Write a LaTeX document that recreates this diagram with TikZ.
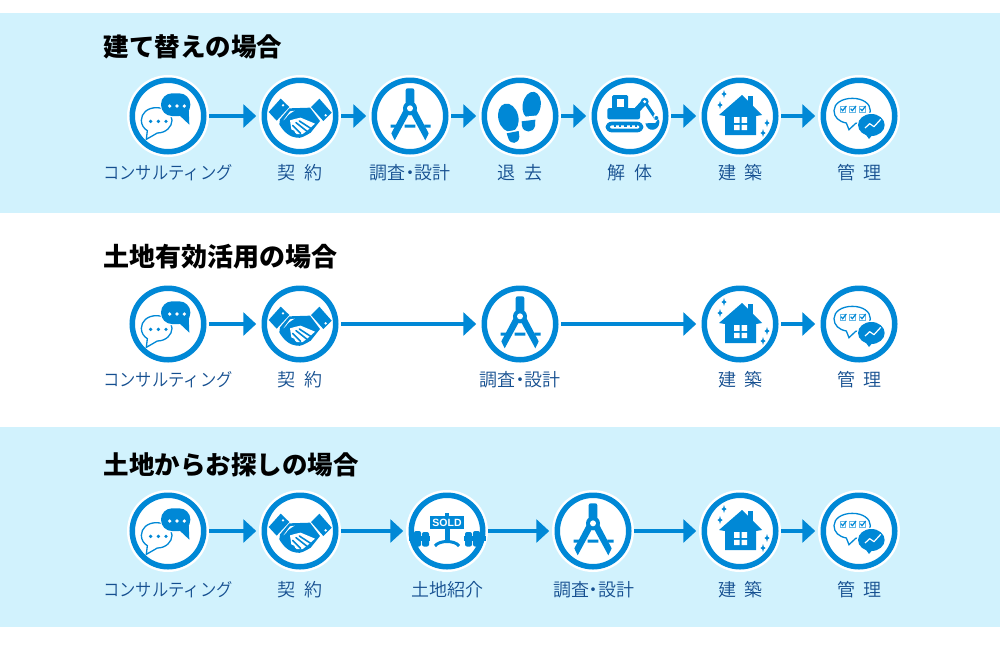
\documentclass[tikz,border=0pt]{standalone}
\usepackage{fontspec}
\setmainfont{Noto Sans CJK JP}
\newfontfamily\lblfont{Noto Sans CJK JP DemiLight}
\newfontfamily\soldfont{Liberation Sans}
\usetikzlibrary{arrows.meta}
\definecolor{iconblue}{HTML}{0088D6}
\definecolor{bandblue}{HTML}{D1F2FD}
\definecolor{labelblue}{HTML}{154F90}
\newcommand\dg{\kern8.5pt}
\newcommand\md{\kern-4.5pt・\kern-4.5pt}
\newcommand\kata{\scalebox{.905}[1]{コンサルティング}}
\newcommand\spark[2]{\fill[iconblue] (#1,#2-4) .. controls (#1+.6,#2-1) .. (#1+2.6,#2) .. controls (#1+.6,#2+1) .. (#1,#2+4) .. controls (#1-.6,#2+1) .. (#1-2.6,#2) .. controls (#1-.6,#2-1) .. cycle;}
\tikzset{
  x=1pt,y=-1pt,
  crop/.style={xshift=-40pt,yshift=40pt,x=.33333pt,y=-.33333pt},
  stepring/.style={circle,fill=white,draw=iconblue,line width=5.5pt,minimum size=71.5pt,inner sep=0pt,outer sep=5.5pt,preaction={draw=white,line width=10.5pt}},
  flow/.style={draw=iconblue,line width=3.4pt,shorten >=2.5pt,-{Triangle[length=13pt,width=23pt]}},
  title/.style={anchor=west,font=\fontsize{25.5}{25.5}\selectfont\bfseries,text=black,inner sep=0pt},
  steplabel/.style={font=\lblfont\fontsize{18}{18}\selectfont,text=labelblue,inner sep=0pt},
  band/.style={fill=bandblue,draw=none},
  chaticon/.pic={
    \begin{scope}[crop]
    \draw[iconblue,line width=1.3pt,fill=white] (85,95) .. controls (58,95) and (40,112) .. (40,133) .. controls (40,147) and (48,158) .. (58,164) -- (55,190) -- (88,171) .. controls (114,171) and (132,152) .. (132,133) .. controls (132,112) and (112,95) .. (85,95) -- cycle;
    \fill[iconblue] (68,136) circle[radius=5.5] (91,136) circle[radius=5.5] (114,136) circle[radius=5.5];
    \fill[white,rounded corners=12pt] (96,49) rectangle (190,124);
    \fill[iconblue] (148,112) -- (184,146) -- (182,98) -- cycle;
    \fill[iconblue,rounded corners=11pt] (99,52) rectangle (187,120);
    \fill[white] (125,90) circle[radius=5.5] (147,90) circle[radius=5.5] (169,90) circle[radius=5.5];
    \end{scope}
  },
  shakeicon/.pic={
    \begin{scope}[crop]
    \fill[iconblue] (26,108) -- (62,68) -- (88,93) -- (50,134) -- cycle;
    \fill[iconblue] (153,93) -- (178,68) -- (215,110) -- (190,135) -- cycle;
    \fill[white] (69,88) circle[radius=4] (197,118) circle[radius=4];
    \fill[iconblue] (88,97) -- (150,95) -- (180,135) -- (152,170) .. controls (135,180) and (122,188) .. (110,185) .. controls (90,184) and (70,167) .. (58,145) -- (60,130) -- cycle;
    \fill[white] (70,133) -- (90,106) -- (104,104) .. controls (90,112) and (82,118) .. (78,126) -- cycle;
    \fill[white] (90,133) .. controls (102,130) and (112,126) .. (122,125) -- (165,143) -- (146,160) -- (128,174) -- (110,174) -- (94,160) -- cycle;
    \draw[iconblue,line width=1.6pt,line cap=round] (108,140) -- (140,165) (118,135) -- (152,157) (98,148) -- (122,172);
    \fill[iconblue] (72,146) circle[radius=9] (84,159) circle[radius=9] (97,170) circle[radius=8];
    \end{scope}
  },
  compassicon/.pic={
    \begin{scope}[crop]
    \fill[iconblue] (62,146) rectangle (79,155) (104,146) rectangle (136,155) (163,146) rectangle (182,155);
    \fill[iconblue] (102,100) -- (64,172) -- (74,193) -- (118,112) -- cycle;
    \fill[iconblue] (138,100) -- (176,172) -- (166,193) -- (122,112) -- cycle;
    \fill[iconblue,rounded corners=2pt] (107,37) rectangle (133,85);
    \fill[iconblue] (120,97) circle[radius=21];
    \fill[white] (120,97) circle[radius=9];
    \end{scope}
  },
  feeticon/.pic={
    \begin{scope}[crop]
    \fill[iconblue,rotate around={-10:(155,88)}] (155,88) ellipse[x radius=27,y radius=41];
    \fill[white] (115,124) -- (195,116) -- (195,128) -- (115,137) -- cycle;
    \fill[iconblue] (125,136) -- (166,131) -- (165,150) .. controls (160,172) and (130,172) .. (126,150) -- cycle;
    \fill[iconblue,rotate around={14:(85,125)}] (85,125) ellipse[x radius=30,y radius=43];
    \fill[white] (55,172) -- (125,158) -- (125,165) -- (55,180) -- cycle;
    \fill[iconblue] (80,172) -- (116,165) -- (118,182) .. controls (116,206) and (90,206) .. (85,187) -- cycle;
    \end{scope}
  },
  diggericon/.pic={
    \begin{scope}[crop]
    \fill[iconblue,rounded corners=1.5pt] (66,57) rectangle (114,105);
    \fill[white] (80,70) rectangle (102,92);
    \fill[iconblue,rounded corners=2pt] (52,96) rectangle (150,130);
    \draw[iconblue,line width=6pt] (130,114) -- (164,77);
    \draw[iconblue,line width=3.2pt] (164,77) -- (198,128);
    \fill[iconblue] (164,77) circle[radius=12];
    \fill[white] (164,77) circle[radius=5];
    \fill[white] (199,122) circle[radius=9];
    \fill[iconblue] (199,126) circle[radius=6];
    \fill[iconblue] (166,142) .. controls (172,170) and (206,166) .. (208,140) .. controls (209,134) and (207,130) .. (204,130) -- (196,141) -- cycle;
    \fill[iconblue,rounded corners=6pt] (47,137) rectangle (160,169);
    \fill[white,rounded corners=2pt] (60,148) rectangle (148,158);
    \foreach \q in {71,87,103,119,135}{\fill[iconblue] (\q,147) rectangle (\q+7,152);}
    \end{scope}
  },
  houseicon/.pic={
    \fill[iconblue] (8,-20) rectangle (13,-8);
    \fill[iconblue] (2,-21) -- (22,-1) -- (16,0) -- (16,19) -- (-15,19) -- (-15,0) -- (-21,-1) -- cycle;
    \fill[white] (-6,1) rectangle (-.5,6.8) (1.5,1) rectangle (7,6.8) (-6,8.8) rectangle (-.5,14) (1.5,8.8) rectangle (7,14);
    \spark{-16}{-22}\spark{-20}{-11}\spark{27}{7}\spark{23}{17}
  },
  checkbox/.pic={
    \fill[iconblue!60] (-10,-10) rectangle (10,10);
    \fill[white] (-7,-7) rectangle (7,7);
    \draw[iconblue,line width=1.2pt] (-6,-2) -- (-1,4) -- (10,-10);
  },
  manageicon/.pic={
    \begin{scope}[crop]
    \draw[iconblue,line width=1.3pt,fill=white] (100,67) .. controls (68,67) and (45,83) .. (45,104) .. controls (45,124) and (60,137) .. (82,141) -- (90,161) -- (110,142) .. controls (136,140) and (154,124) .. (154,104) .. controls (154,83) and (132,67) .. (100,67) -- cycle;
    \pic at (72,100) {checkbox}; \pic at (101,100) {checkbox}; \pic at (130,100) {checkbox};
    \fill[white] (157,147) ellipse[x radius=44,y radius=37];
    \fill[iconblue] (157,147) ellipse[x radius=40,y radius=33];
    \fill[iconblue] (138,172) -- (150,189) -- (164,172) -- cycle;
    \draw[white,line width=1.2pt,line join=round] (138,156) -- (152,143) -- (165,152) -- (185,130);
    \end{scope}
  },
  soldicon/.pic={
    \fill[iconblue] (-2,-18) rectangle (2,-14);
    \fill[iconblue] (-17,-15) rectangle (17,-2);
    \node[font=\soldfont\fontsize{10.5}{10.5}\selectfont\bfseries,text=white,inner sep=0pt] (soldtext) at (0,-8.5) {SOLD};
    \fill[iconblue] (-2.5,-2) rectangle (2.5,9);
    \draw[iconblue,line width=3pt] (-12,15) .. controls (-8,9) and (8,9) .. (12,15);
    \foreach \s in {-1,1}{
      \fill[iconblue] (\s*38.5,4.5) rectangle (\s*17,10);
      \fill[iconblue,rounded corners=2pt] (\s*33,0) rectangle (\s*26,15.5);
      \fill[iconblue,rounded corners=2pt] (\s*25,1) rectangle (\s*18,15.5);
    }
  }
}
\newcommand\stepat[4]{\node[stepring] (#1) at (#2,#3) {}; \pic at (#1) {#4};}
\begin{document}
\begin{tikzpicture}
\useasboundingbox (0,0) rectangle (1000,646);
\fill[white] (0,0) rectangle (1000,646);
\fill[band] (0,13) rectangle (1000,212.5);
\fill[band] (0,427) rectangle (1000,627);
\node[title] (t1) at (103.5,47) {建て替えの場合};
\node[title,font=\fontsize{26}{26}\selectfont\bfseries] (t2) at (103.5,257) {土地有効活用の場合};
\node[title] (t3) at (103.5,465) {土地からお探しの場合};
% row 1
\stepat{a1}{168}{116}{chaticon}
\stepat{a2}{300}{116}{shakeicon}
\stepat{a3}{410}{116}{compassicon}
\stepat{a4}{520}{116}{feeticon}
\stepat{a5}{630}{116}{diggericon}
\stepat{a6}{740}{116}{houseicon}
\stepat{a7}{859}{116}{manageicon}
\draw[flow] (a1) -- (a2);
\draw[flow] (a2) -- (a3);
\draw[flow] (a3) -- (a4);
\draw[flow] (a4) -- (a5);
\draw[flow] (a5) -- (a6);
\draw[flow] (a6) -- (a7);
\node[steplabel] (la1) at (168,172.5) {\kata};
\node[steplabel] (la2) at (300,172.5) {契\dg 約};
\node[steplabel] (la3) at (410,172.5) {調査\md 設計};
\node[steplabel] (la4) at (520,172.5) {退\dg 去};
\node[steplabel] (la5) at (630,172.5) {解\dg 体};
\node[steplabel] (la6) at (740.5,172.5) {建\dg 築};
\node[steplabel] (la7) at (859.5,172.5) {管\dg 理};
% row 2
\stepat{b1}{168}{324}{chaticon}
\stepat{b2}{300}{324}{shakeicon}
\stepat{b3}{520}{324}{compassicon}
\stepat{b4}{740}{324}{houseicon}
\stepat{b5}{859}{324}{manageicon}
\draw[flow] (b1) -- (b2);
\draw[flow] (b2) -- (b3);
\draw[flow] (b3) -- (b4);
\draw[flow] (b4) -- (b5);
\node[steplabel] (lb1) at (168,379.5) {\kata};
\node[steplabel] (lb2) at (300,379.5) {契\dg 約};
\node[steplabel] (lb3) at (520,379.5) {調査\md 設計};
\node[steplabel] (lb4) at (740.5,379.5) {建\dg 築};
\node[steplabel] (lb5) at (859.5,379.5) {管\dg 理};
% row 3
\stepat{c1}{168}{531}{chaticon}
\stepat{c2}{300}{531}{shakeicon}
\stepat{c3}{447}{531}{soldicon}
\stepat{c4}{593}{531}{compassicon}
\stepat{c5}{740}{531}{houseicon}
\stepat{c6}{859}{531}{manageicon}
\draw[flow] (c1) -- (c2);
\draw[flow] (c2) -- (c3);
\draw[flow] (c3) -- (c4);
\draw[flow] (c4) -- (c5);
\draw[flow] (c5) -- (c6);
\node[steplabel] (lc1) at (168,589.5) {\kata};
\node[steplabel] (lc2) at (300,589.5) {契\dg 約};
\node[steplabel] (lc3) at (447,589.5) {土地紹介};
\node[steplabel] (lc4) at (593.5,589.5) {調査\md 設計};
\node[steplabel] (lc5) at (740.5,589.5) {建\dg 築};
\node[steplabel] (lc6) at (859.5,589.5) {管\dg 理};
\end{tikzpicture}
\end{document}
